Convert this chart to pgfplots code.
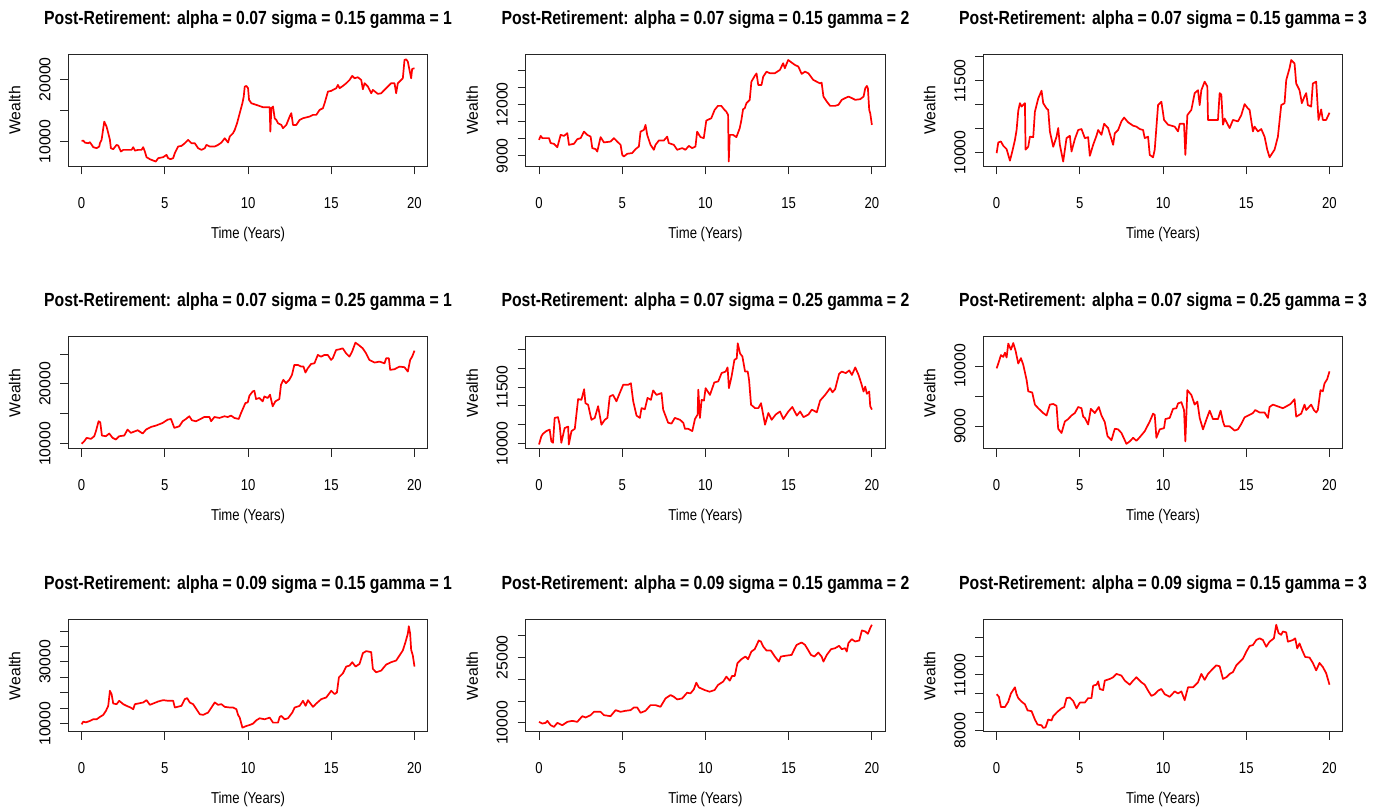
\documentclass[border=0pt]{standalone}
\usepackage{pgfplots}
\pgfplotsset{compat=1.18}
\usepackage{fontspec}
\setmainfont{Liberation Sans}
\newfontfamily\condfont[FakeStretch=0.83]{Liberation Sans}
\newcommand\tfont{\condfont\fontsize{15.8pt}{18pt}\selectfont}
\newcommand\rfont{\fontsize{15.8pt}{18pt}\selectfont}
\newcommand\ttfont{\condfont\bfseries\fontsize{19pt}{22pt}\selectfont}
\pgfplotsset{
  rp/.style={
    scale only axis, width=359.5pt, height=112pt,
    anchor=north west,
    xmin=-0.8, xmax=20.8,
    xtick={0,5,10,15,20}, xticklabels={0,5,10,15,20},
    scaled y ticks=false,
    tick align=outside, tick pos=left,
    major tick length=8pt,
    axis line style={black!85, line width=0.9pt},
    tick style={black!85, line width=0.9pt},
    xticklabel style={font=\tfont, anchor=base, yshift=-34pt},
    yticklabel style={font=\rfont, xshift=-10pt, rotate=90, anchor=base},
    every axis title/.style={at={(0.5,1)}, anchor=base, yshift=30pt, font=\ttfont},
    xlabel={Time (Years)}, ylabel={Wealth},
    xlabel style={at={(axis description cs:0.5,-0.64)}, anchor=base, font=\tfont},
    ylabel style={at={(axis description cs:-0.1333,0.5)}, anchor=base, font=\rfont},
  },
  dl/.style={red, line width=1.7pt, mark=none, line join=round},
}
\begin{document}
\begin{tikzpicture}
\path[use as bounding box] (0,0) rectangle (1382pt,809pt);
% Row 1
\begin{axis}[rp, at={(68.3pt,754.5pt)},
  title={Post-Retirement: alpha = 0.07 sigma = 0.15 gamma = 1},
  ymin=5994, ymax=23974, ytick={10000,15000,20000}, yticklabels={10000,,20000}]
\addplot[dl] coordinates {(0,10100) (0.1,10150) (0.2,9830) (0.4,9730) (0.5,9890) (0.7,9100) (0.9,8930) (1.06,9200) (1.1,9730) (1.2,10270) (1.36,13200) (1.5,12400) (1.6,11340) (1.7,10270) (1.76,8930) (1.9,8770) (2.1,9460) (2.2,9350) (2.36,8400) (2.5,8660) (2.7,8660) (3.0,8660) (3.1,9090) (3.2,8550) (3.4,8660) (3.6,8660) (3.7,9090) (3.8,8400) (3.9,7490) (4.1,7170) (4.3,6950) (4.46,6790) (4.6,7330) (4.9,7490) (5.1,7860) (5.2,7330) (5.34,7170) (5.5,7330) (5.6,8130) (5.8,9200) (6.0,9300) (6.2,9730) (6.4,10270) (6.6,9730) (6.8,9730) (7.0,8930) (7.2,8660) (7.4,8930) (7.5,9460) (7.7,9200) (8.0,9200) (8.2,9460) (8.4,9840) (8.6,10530) (8.8,9840) (8.9,10800) (9.1,11340) (9.2,11870) (9.34,12940) (9.5,14550) (9.66,16150) (9.74,17220) (9.8,18820) (9.9,18930) (10.0,18560) (10.06,16690) (10.2,16150) (10.5,15880) (10.9,15510) (11.3,15510) (11.34,11600) (11.4,15350) (11.5,15620) (11.6,13740) (11.7,13470) (11.8,12940) (12.0,12670) (12.1,12140) (12.3,12670) (12.5,14010) (12.6,14550) (12.7,12670) (12.9,12670) (13.1,13470) (13.3,13740) (13.7,14010) (13.9,14280) (14.1,14280) (14.3,15080) (14.5,15350) (14.6,16150) (14.8,18020) (15.0,18130) (15.1,18290) (15.3,18560) (15.4,19090) (15.5,18560) (15.7,18930) (15.9,19360) (16.1,19890) (16.26,20540) (16.4,20160) (16.6,20320) (16.8,19890) (16.9,18400) (17.0,19360) (17.2,18830) (17.4,17750) (17.5,18290) (17.7,17860) (17.8,17650) (18.0,17750) (18.3,18560) (18.6,19360) (18.8,19360) (18.9,17750) (19.0,19360) (19.2,19890) (19.3,20160) (19.4,23100) (19.5,23200) (19.6,22830) (19.7,21500) (19.8,20160) (19.86,21660) (20,21760)};
\end{axis}
\begin{axis}[rp, at={(525.7pt,754.5pt)},
  title={Post-Retirement: alpha = 0.07 sigma = 0.15 gamma = 2},
  ymin=8378, ymax=14901, ytick={9000,10000,11000,12000,13000,14000}, yticklabels={9000,,,12000,,}]
\addplot[dl] coordinates {(0,9930) (0.1,10160) (0.2,10030) (0.6,10030) (0.7,9740) (0.9,9700) (1.1,9500) (1.3,10220) (1.5,10160) (1.7,10320) (1.8,9640) (2.1,9700) (2.3,9970) (2.5,10030) (2.7,10410) (2.9,10220) (3.1,10120) (3.2,9450) (3.4,9390) (3.5,9250) (3.7,10090) (3.9,9780) (4.3,9830) (4.5,10030) (4.7,9830) (4.9,9640) (5.0,9060) (5.1,8960) (5.3,9120) (5.6,9160) (5.8,9390) (6.0,9540) (6.1,10410) (6.3,10510) (6.4,10800) (6.5,10220) (6.7,9640) (6.9,9350) (7.0,9640) (7.2,9890) (7.5,9890) (7.7,10120) (7.8,9740) (8.1,9640) (8.3,9350) (8.6,9450) (8.8,9350) (9.0,9580) (9.2,9450) (9.4,9540) (9.5,10410) (9.7,10090) (9.9,10030) (10.05,11050) (10.35,11190) (10.55,11670) (10.75,11910) (10.95,11910) (11.15,11670) (11.25,11580) (11.36,11380) (11.4,8670) (11.46,10220) (11.66,10220) (11.86,10090) (12.06,10610) (12.16,11090) (12.26,11710) (12.36,11770) (12.46,12060) (12.66,12260) (12.76,13320) (12.96,13650) (13.07,13800) (13.17,13130) (13.37,13130) (13.47,13610) (13.67,13900) (13.87,13810) (14.17,13810) (14.47,14000) (14.67,14390) (14.77,14100) (14.97,14580) (15.18,14430) (15.38,14290) (15.58,14200) (15.78,13770) (15.98,13900) (16.18,13810) (16.48,13420) (16.68,13320) (16.88,13220) (16.98,13260) (17.09,12450) (17.29,12160) (17.49,11910) (17.79,11910) (17.99,11970) (18.19,12260) (18.39,12360) (18.6,12450) (18.8,12360) (19.0,12260) (19.3,12300) (19.5,12450) (19.6,12930) (19.7,13070) (19.76,12930) (19.84,11670) (19.9,11480) (20,10800)};
\end{axis}
\begin{axis}[rp, at={(983.3pt,754.5pt)},
  title={Post-Retirement: alpha = 0.07 sigma = 0.15 gamma = 3},
  ymin=9708, ymax=12046, ytick={10000,10500,11000,11500,12000}, yticklabels={10000,,,11500,}]
\addplot[dl] coordinates {(0,9986) (0.1,10210) (0.26,10230) (0.4,10140) (0.6,10070) (0.8,9830) (0.94,10020) (1.1,10260) (1.2,10470) (1.3,10870) (1.4,11030) (1.5,10960) (1.7,11030) (1.74,10060) (1.9,10120) (2.0,10330) (2.2,10320) (2.3,10850) (2.5,11130) (2.7,11290) (2.8,11030) (3.0,10920) (3.1,10890) (3.2,10440) (3.4,10120) (3.6,10330) (3.7,10510) (3.8,10160) (4.0,9810) (4.2,10300) (4.4,10350) (4.5,10020) (4.7,10280) (4.9,10470) (5.1,10490) (5.3,10300) (5.5,10320) (5.6,9930) (5.8,10160) (6.0,10350) (6.1,10470) (6.3,10370) (6.46,10600) (6.7,10510) (7.0,10160) (7.1,10400) (7.3,10470) (7.5,10650) (7.66,10730) (7.9,10630) (8.2,10560) (8.4,10540) (8.6,10490) (8.8,10470) (8.9,10300) (9.1,10330) (9.2,9950) (9.4,9900) (9.5,10060) (9.7,10990) (9.9,11060) (10.06,10680) (10.3,10580) (10.7,10540) (10.9,10440) (11.0,10600) (11.26,10600) (11.34,9950) (11.46,10780) (11.7,10890) (11.9,11240) (12.1,11300) (12.2,10990) (12.3,11300) (12.5,11480) (12.66,11380) (12.7,10680) (13.1,10680) (13.3,10680) (13.4,11240) (13.5,11210) (13.6,10580) (13.7,10710) (14.0,10510) (14.2,10680) (14.5,10650) (14.7,10780) (14.9,11010) (15.1,10920) (15.2,10890) (15.4,10440) (15.5,10540) (15.7,10440) (15.9,10490) (16.1,10330) (16.26,10060) (16.4,9900) (16.7,10060) (16.9,10330) (17.1,10990) (17.3,11030) (17.4,11510) (17.6,11760) (17.7,11930) (17.9,11860) (18.0,11440) (18.2,11300) (18.34,11030) (18.5,11170) (18.6,11240) (18.7,10990) (18.9,10960) (19.0,11440) (19.2,11480) (19.34,10680) (19.5,10900) (19.6,10680) (19.8,10680) (20,10830)};
\end{axis}
% Row 2
\begin{axis}[rp, at={(68.3pt,472.2pt)},
  title={Post-Retirement: alpha = 0.07 sigma = 0.25 gamma = 1},
  ymin=9170, ymax=27874, ytick={10000,15000,20000,25000}, yticklabels={10000,,20000,}]
\addplot[dl] coordinates {(0,10000) (0.16,10440) (0.3,10990) (0.56,10830) (0.76,11270) (0.86,12100) (1.02,13770) (1.12,13600) (1.22,11380) (1.46,11270) (1.66,11720) (1.86,11000) (2.06,10720) (2.26,11270) (2.56,11380) (2.76,12380) (2.96,11830) (3.37,12270) (3.67,11720) (3.87,12380) (4.17,12820) (4.47,13050) (4.87,13490) (5.17,14040) (5.37,14150) (5.57,12660) (5.87,12930) (6.07,13770) (6.27,14150) (6.47,14600) (6.63,13930) (6.87,13770) (7.07,14040) (7.37,14480) (7.68,14480) (7.78,13770) (7.98,14480) (8.28,14320) (8.58,14600) (8.78,14480) (8.98,14710) (9.18,14320) (9.44,14150) (9.58,15150) (9.84,16810) (9.98,16920) (10.08,18030) (10.28,18750) (10.38,18860) (10.48,17480) (10.68,17650) (10.88,17090) (10.98,17920) (11.18,17650) (11.32,18200) (11.48,16260) (11.64,17090) (11.88,17480) (11.98,19860) (12.12,20690) (12.28,20130) (12.48,20690) (12.64,21520) (12.78,23180) (12.99,23180) (13.19,22900) (13.33,22900) (13.45,21900) (13.59,22620) (13.79,23340) (13.99,23450) (14.19,24840) (14.39,24560) (14.59,24840) (14.79,24840) (14.99,24010) (15.09,24290) (15.29,25670) (15.49,25780) (15.69,25950) (15.89,25120) (16.09,24560) (16.25,25390) (16.45,26890) (16.65,26500) (16.89,25950) (17.09,25120) (17.29,24010) (17.6,23570) (17.9,23730) (18.2,23450) (18.3,24290) (18.46,24290) (18.54,22350) (18.8,22460) (19.1,22900) (19.4,22790) (19.6,22070) (19.74,24010) (19.86,24560) (20,25560)};
\end{axis}
\begin{axis}[rp, at={(525.7pt,472.2pt)},
  title={Post-Retirement: alpha = 0.07 sigma = 0.25 gamma = 2},
  ymin=9860, ymax=12833, ytick={10000,10500,11000,11500,12000,12500}, yticklabels={10000,,,11500,,}]
\addplot[dl] coordinates {(0,9974) (0.14,10190) (0.24,10260) (0.44,10330) (0.64,10370) (0.74,10060) (0.84,10020) (0.94,10680) (1.14,10700) (1.24,10500) (1.34,10020) (1.54,10410) (1.75,10450) (1.79,9974) (1.95,10330) (2.15,10390) (2.35,11180) (2.55,11160) (2.71,11440) (2.79,11070) (2.95,11030) (3.15,10630) (3.35,10680) (3.55,10990) (3.75,10500) (3.95,10630) (4.11,10680) (4.25,11250) (4.45,11290) (4.65,11120) (4.85,11340) (5.06,11560) (5.36,11560) (5.52,11600) (5.66,11120) (5.86,10740) (6.06,10680) (6.16,10940) (6.36,10910) (6.52,11210) (6.72,11160) (6.86,11410) (7.06,11290) (7.36,11340) (7.46,10900) (7.76,10550) (7.96,10530) (8.16,10680) (8.47,10630) (8.67,10550) (8.77,10390) (8.97,10390) (9.21,10330) (9.37,10650) (9.53,10770) (9.57,11430) (9.67,10680) (9.77,11160) (9.91,11140) (10.01,11470) (10.27,11290) (10.53,11620) (10.77,11650) (10.97,11870) (11.21,11910) (11.33,12020) (11.41,11470) (11.57,11780) (11.74,12220) (11.88,12260) (11.94,12660) (12.08,12390) (12.22,12310) (12.38,11910) (12.54,11910) (12.62,11690) (12.74,11030) (12.98,10940) (13.18,10940) (13.34,11070) (13.58,10500) (13.78,10810) (13.98,10630) (14.22,10770) (14.48,10850) (14.68,10650) (14.98,10850) (15.22,10970) (15.49,10740) (15.69,10850) (15.89,10700) (16.19,10770) (16.39,10900) (16.69,10830) (16.89,11140) (17.19,11290) (17.49,11470) (17.63,11360) (17.79,11440) (18.03,11850) (18.19,11910) (18.43,11870) (18.64,11940) (18.8,11820) (19.0,12020) (19.2,11820) (19.36,11600) (19.5,11380) (19.6,11510) (19.7,11320) (19.84,11380) (19.9,10990) (20,10900)};
\end{axis}
\begin{axis}[rp, at={(983.3pt,472.2pt)},
  title={Post-Retirement: alpha = 0.07 sigma = 0.25 gamma = 3},
  ymin=8628, ymax=10483, ytick={9000,9500,10000}, yticklabels={9000,,10000}]
\addplot[dl] coordinates {(0,9960) (0.1,10040) (0.26,10180) (0.4,10150) (0.5,10220) (0.6,10140) (0.7,10370) (0.86,10270) (1.0,10380) (1.14,10250) (1.3,10040) (1.46,10130) (1.6,10020) (1.8,9770) (1.9,9580) (2.14,9560) (2.3,9360) (2.5,9300) (2.8,9220) (3.0,9180) (3.2,9360) (3.4,9370) (3.6,9340) (3.7,8960) (3.9,8890) (4.1,9080) (4.3,9120) (4.5,9180) (4.7,9220) (4.9,9320) (5.1,9300) (5.2,9160) (5.3,9140) (5.5,9030) (5.66,9290) (5.9,9220) (6.14,9320) (6.3,9180) (6.5,9070) (6.66,8840) (6.9,8770) (7.1,8960) (7.3,8950) (7.5,8890) (7.8,8710) (8.0,8750) (8.2,8810) (8.4,8760) (8.6,8820) (8.9,8920) (9.2,9080) (9.4,9210) (9.5,9190) (9.6,8810) (9.8,8950) (10.06,8970) (10.14,9120) (10.4,9140) (10.6,9290) (10.8,9300) (10.9,9380) (11.1,9400) (11.26,9270) (11.34,8750) (11.46,9600) (11.7,9520) (11.9,9360) (12.06,9410) (12.2,9140) (12.4,8950) (12.6,9110) (12.8,9260) (13.0,9120) (13.3,9120) (13.46,9260) (13.6,9080) (13.7,9000) (14.0,9000) (14.3,8930) (14.5,8950) (14.7,9040) (14.9,9150) (15.2,9190) (15.4,9220) (15.54,9270) (15.8,9230) (16.1,9230) (16.3,9140) (16.4,9320) (16.6,9360) (16.9,9330) (17.2,9300) (17.4,9330) (17.66,9370) (17.9,9450) (18.0,9160) (18.3,9210) (18.5,9360) (18.6,9270) (18.9,9360) (19.06,9270) (19.2,9230) (19.3,9270) (19.46,9600) (19.6,9580) (19.7,9710) (19.86,9780) (20,9910)};
\end{axis}
% Row 3
\begin{axis}[rp, at={(68.3pt,189.3pt)},
  title={Post-Retirement: alpha = 0.09 sigma = 0.15 gamma = 1},
  ymin=7391, ymax=43652, ytick={10000,15000,20000,25000,30000,35000,40000}, yticklabels={10000,,,,30000,,}]
\addplot[dl] coordinates {(0,9780) (0.1,10650) (0.26,10430) (0.5,10870) (0.7,11410) (0.9,11410) (1.1,12170) (1.3,12830) (1.46,14130) (1.6,15760) (1.7,20650) (1.8,19570) (1.9,16520) (2.1,16300) (2.26,17390) (2.5,16300) (2.7,15760) (2.94,15220) (3.1,14670) (3.2,16300) (3.4,16520) (3.7,16850) (3.9,17610) (4.1,16090) (4.3,16520) (4.6,17170) (4.9,17610) (5.2,17390) (5.5,17390) (5.6,15220) (6.0,15760) (6.2,17930) (6.34,18260) (6.5,16850) (6.7,16300) (6.9,14670) (7.1,13040) (7.3,12830) (7.6,13590) (7.8,15220) (8.0,16850) (8.2,16090) (8.4,16300) (8.6,15430) (8.9,15220) (9.1,15220) (9.3,14670) (9.4,12830) (9.5,11960) (9.66,8700) (9.9,9240) (10.1,9570) (10.3,10000) (10.5,11090) (10.7,11740) (11.0,11410) (11.3,11960) (11.5,10330) (11.8,10330) (11.9,12170) (12.0,12500) (12.2,11410) (12.4,11740) (12.66,13590) (12.8,15220) (13.1,15760) (13.3,17390) (13.46,15760) (13.6,17610) (13.9,15430) (14.1,16520) (14.4,17930) (14.7,18480) (15.0,20650) (15.2,19570) (15.34,20100) (15.46,25000) (15.7,26300) (15.9,28480) (16.1,28800) (16.26,29890) (16.46,28480) (16.7,29350) (16.9,32830) (17.1,33480) (17.4,33150) (17.5,27720) (17.7,26630) (18.0,27170) (18.3,29130) (18.6,29890) (18.9,30430) (19.1,32070) (19.3,33700) (19.46,36410) (19.6,39130) (19.66,41520) (19.74,39130) (19.8,33910) (19.9,32070) (20,28480)};
\end{axis}
\begin{axis}[rp, at={(525.7pt,189.3pt)},
  title={Post-Retirement: alpha = 0.09 sigma = 0.15 gamma = 2},
  ymin=7977, ymax=33609, ytick={10000,15000,20000,25000,30000}, yticklabels={10000,,,25000,}]
\addplot[dl] coordinates {(0,10230) (0.2,9850) (0.4,10000) (0.5,10460) (0.7,9460) (0.9,9080) (1.1,10000) (1.4,9460) (1.7,10230) (2.0,10460) (2.3,10230) (2.6,11530) (2.8,11230) (3.1,11760) (3.3,12530) (3.7,12530) (3.9,11760) (4.3,11530) (4.6,12910) (4.9,12530) (5.2,12760) (5.5,12910) (5.7,13520) (5.9,13520) (6.1,12300) (6.4,12760) (6.7,14060) (7.0,14060) (7.3,13680) (7.6,15590) (7.9,16360) (8.1,15980) (8.3,15360) (8.6,15590) (8.9,16900) (9.1,16750) (9.3,17660) (9.45,19200) (9.6,18120) (9.95,17510) (10.25,17130) (10.55,17510) (10.75,18660) (11.06,19430) (11.26,20580) (11.46,19660) (11.6,20730) (11.76,20730) (11.92,23640) (12.16,24560) (12.4,25170) (12.56,24560) (12.76,26320) (12.96,26860) (13.13,28240) (13.2,28850) (13.33,28620) (13.47,27470) (13.67,26550) (13.93,26550) (14.17,25170) (14.41,24020) (14.53,25170) (14.77,25330) (15.18,25560) (15.34,26860) (15.48,27850) (15.78,28390) (15.98,27850) (16.14,26860) (16.34,25560) (16.54,25170) (16.78,26090) (16.98,25170) (17.09,24020) (17.29,25560) (17.55,26860) (17.79,27090) (18.03,27630) (18.19,26860) (18.39,27090) (18.49,26320) (18.59,28240) (18.79,29160) (18.99,28620) (19.24,28850) (19.4,31150) (19.6,30920) (19.76,30380) (19.9,31690) (20,32450)};
\end{axis}
\begin{axis}[rp, at={(983.3pt,189.3pt)},
  title={Post-Retirement: alpha = 0.09 sigma = 0.15 gamma = 3},
  ymin=7946, ymax=13962, ytick={8000,9000,10000,11000,12000,13000}, yticklabels={8000,,,11000,,}]
\addplot[dl] coordinates {(0,9960) (0.14,9820) (0.26,9270) (0.5,9270) (0.7,9560) (0.86,10000) (1.1,10330) (1.2,9960) (1.3,9750) (1.5,9560) (1.7,9420) (1.86,9090) (2.1,9050) (2.3,8600) (2.46,8330) (2.7,8290) (2.8,8150) (2.94,8180) (3.1,8600) (3.3,8550) (3.4,8780) (3.66,9020) (3.9,9200) (4.06,9270) (4.2,9750) (4.4,9780) (4.6,9600) (4.8,9200) (5.0,9510) (5.3,9510) (5.5,9750) (5.7,9750) (5.8,10420) (6.0,10470) (6.1,10650) (6.2,10240) (6.4,10180) (6.5,10690) (6.8,10780) (7.0,10870) (7.2,11050) (7.5,10960) (7.7,10690) (8.0,10470) (8.2,10690) (8.4,10870) (8.7,10600) (8.9,10470) (9.1,10150) (9.3,9870) (9.5,9960) (9.7,10150) (9.9,10240) (10.1,9960) (10.4,9820) (10.7,10110) (10.9,10000) (11.1,10110) (11.3,9640) (11.5,10330) (11.8,10330) (12.1,10600) (12.3,11050) (12.5,10730) (12.7,11050) (12.9,11240) (13.2,11510) (13.4,11460) (13.6,10780) (13.8,10870) (14.0,11050) (14.2,11150) (14.4,11510) (14.8,11870) (15.0,12240) (15.2,12550) (15.4,12600) (15.6,12870) (15.8,12960) (16.0,12870) (16.2,12510) (16.4,12780) (16.66,12960) (16.8,13690) (16.94,13240) (17.1,13150) (17.2,13330) (17.4,13280) (17.5,12780) (17.8,12870) (17.94,12960) (18.06,12420) (18.2,12690) (18.34,12360) (18.54,11960) (18.8,11930) (19.0,11640) (19.2,11240) (19.4,11640) (19.6,11420) (19.8,11090) (20,10470)};
\end{axis}
\end{tikzpicture}
\end{document}
